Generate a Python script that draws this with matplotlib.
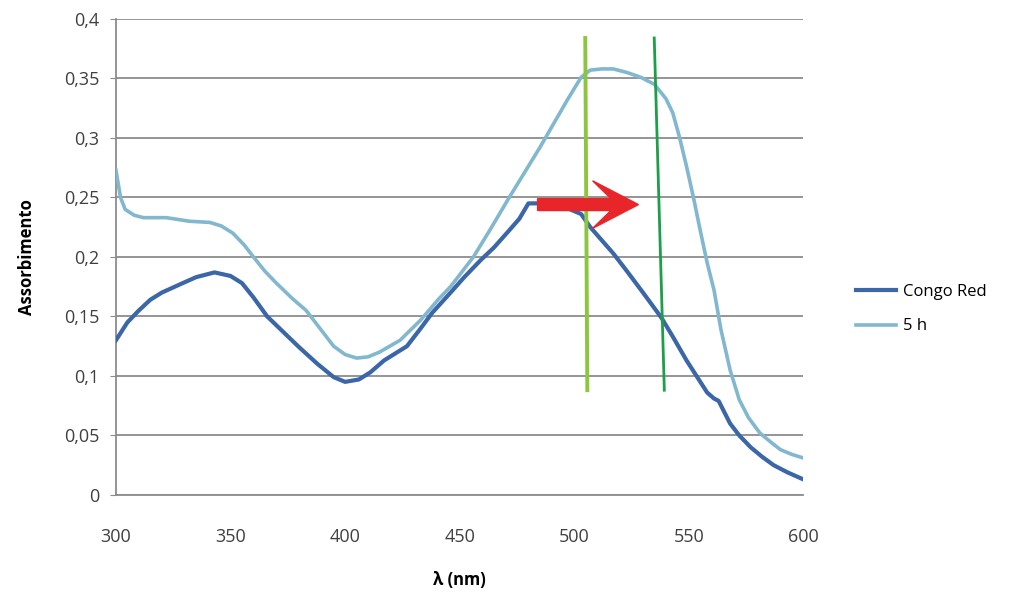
import numpy as np
import matplotlib.pyplot as plt

# Congo Red spectrum
wl_cr = [300, 305, 310, 315, 320, 328, 335, 343, 350, 355, 360, 366, 373, 380,
         388, 395, 400, 406, 411, 417, 427, 433, 438, 446, 452, 459, 465, 471,
         476, 480, 484, 490, 497, 503, 507, 512, 517, 523, 530, 538, 543, 549,
         554, 558, 561, 563, 568, 572, 577, 582, 587, 593, 600]
abs_cr = [0.130, 0.145, 0.155, 0.164, 0.170, 0.177, 0.183, 0.187, 0.184, 0.178,
          0.166, 0.150, 0.137, 0.124, 0.110, 0.099, 0.095, 0.097, 0.103, 0.113,
          0.125, 0.140, 0.153, 0.170, 0.183, 0.197, 0.208, 0.221, 0.232, 0.245,
          0.245, 0.244, 0.241, 0.236, 0.225, 0.214, 0.203, 0.188, 0.170, 0.149,
          0.133, 0.113, 0.098, 0.086, 0.081, 0.079, 0.060, 0.050, 0.040, 0.032,
          0.025, 0.019, 0.013]

# after 5 h
wl_5h = [300, 302, 304, 308, 312, 322, 332, 341, 346, 351, 356, 360, 365, 370,
         377, 383, 389, 395, 400, 405, 410, 415, 424, 433, 441, 446, 456, 463,
         471, 478, 485, 491, 497, 503, 507, 512, 517, 523, 529, 535, 540, 543,
         546, 549, 552, 555, 558, 561, 564, 568, 572, 576, 581, 586, 590, 595, 600]
abs_5h = [0.273, 0.250, 0.240, 0.235, 0.233, 0.233, 0.230, 0.229, 0.226, 0.220,
          0.210, 0.200, 0.188, 0.178, 0.165, 0.155, 0.140, 0.125, 0.118, 0.115,
          0.116, 0.120, 0.130, 0.147, 0.165, 0.175, 0.200, 0.222, 0.248, 0.270,
          0.292, 0.312, 0.332, 0.351, 0.357, 0.358, 0.358, 0.355, 0.351, 0.345,
          0.333, 0.321, 0.300, 0.276, 0.250, 0.222, 0.195, 0.172, 0.139, 0.105,
          0.080, 0.065, 0.052, 0.044, 0.038, 0.034, 0.031]

# marker lines and shift arrow
line1_x = [504.8, 505.7]
line2_x = [534.9, 539.3]
line_y = [0.384, 0.088]
arrow_start, arrow_end, arrow_y = 484, 528, 0.244

yticks = [0, 0.05, 0.1, 0.15, 0.2, 0.25, 0.3, 0.35, 0.4]
ytick_labels = ['0', '0,05', '0,1', '0,15', '0,2', '0,25', '0,3', '0,35', '0,4']
xticks = [300, 350, 400, 450, 500, 550, 600]

plt.rcParams['font.family'] = ['Open Sans', 'DejaVu Sans']

fig = plt.figure(figsize=(10.17, 5.92), dpi=100)
ax = fig.add_axes([0.114, 0.164, 0.676, 0.804])

ax.plot(wl_cr, abs_cr, color='#3b66a8', lw=3, label='Congo Red', zorder=3)
ax.plot(wl_5h, abs_5h, color='#82b8cf', lw=2.6, label='5 h', zorder=3)

ax.plot(line1_x, line_y, color='#8cc63f', lw=2.8, zorder=4)
ax.plot(line2_x, line_y, color='#1d9e48', lw=2.0, zorder=4)

ax.arrow(arrow_start, arrow_y, arrow_end - arrow_start, 0, width=0.010,
         head_width=0.040, head_length=20, overhang=0.4,
         length_includes_head=True, color='#e8262a', zorder=5)

ax.set_xlim(300, 600)
ax.set_ylim(0, 0.4)
ax.set_xticks(xticks)
ax.set_xticklabels([str(t) for t in xticks])
ax.set_yticks(yticks)
ax.set_yticklabels(ytick_labels)
ax.tick_params(axis='x', length=0, pad=24, labelsize=13, colors='#404040')
ax.tick_params(axis='y', length=4, color='#8c8c8c', pad=8, labelsize=13, colors='#404040')
ax.grid(axis='y', color='#8c8c8c', lw=1.3)
ax.set_axisbelow(True)
for s in ['top', 'right']:
    ax.spines[s].set_visible(False)
for s in ['left', 'bottom']:
    ax.spines[s].set_color('#8c8c8c')
    ax.spines[s].set_linewidth(1.3)

ax.set_xlabel('λ (nm)', fontsize=12, fontweight='bold', labelpad=18)
ax.set_ylabel('Assorbimento', fontsize=12, fontweight='bold', labelpad=20)

ax.legend(loc='center left', bbox_to_anchor=(1.055, 0.39), frameon=False,
          fontsize=12, handlelength=2.4, labelspacing=1.1, handletextpad=0.4)

plt.savefig('out.png', dpi=100)
